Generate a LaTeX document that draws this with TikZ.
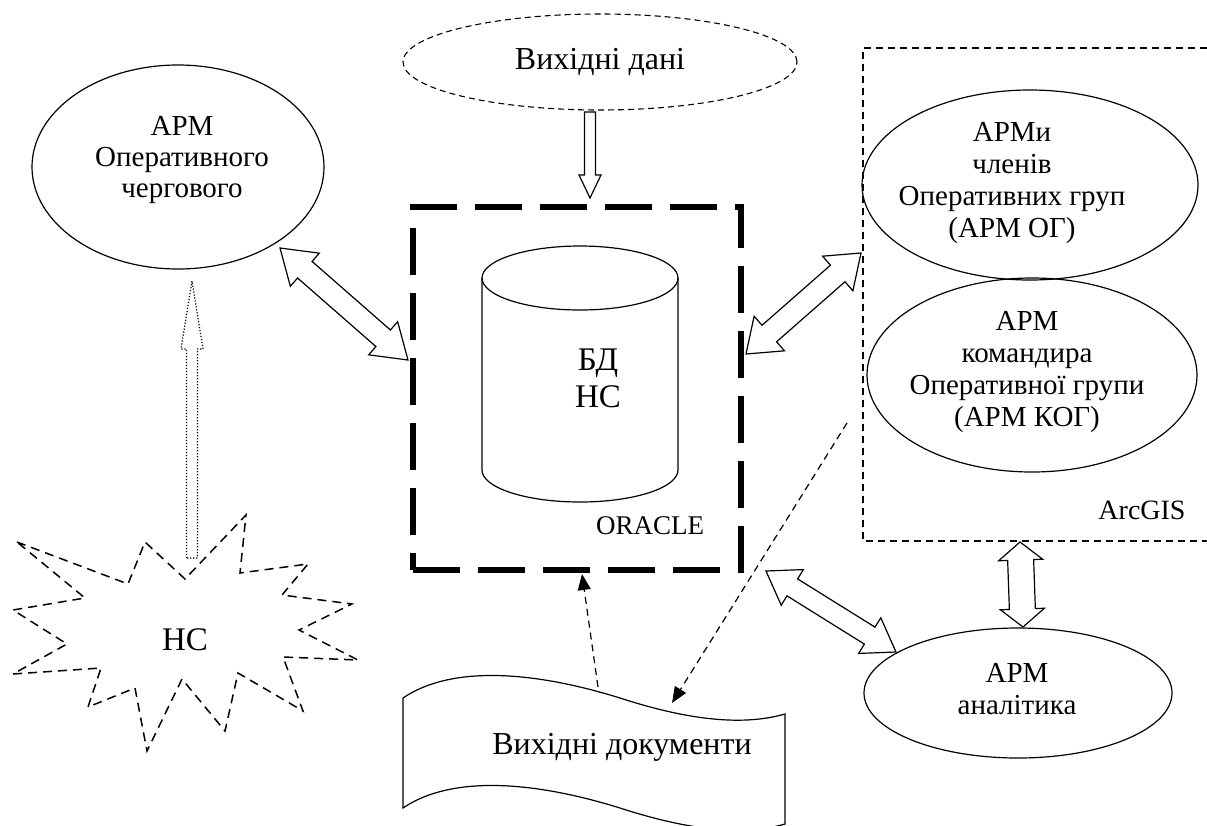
\documentclass[tikz,border=0pt]{standalone}
\usepackage{fontspec}
\setmainfont{Liberation Serif}
\usetikzlibrary{shapes.geometric,calc,arrows.meta}
\tikzset{
  ell/.style={draw, ellipse, line width=1.2pt, inner sep=0pt},
  dashell/.style={ell, dash pattern=on 6pt off 4pt, line width=1.1pt},
  txt/.style={align=center, inner sep=0pt, font=\fontsize{29}{32}\selectfont},
  bigtxt/.style={align=center, inner sep=0pt, font=\fontsize{32}{37}\selectfont},
  hollowarrow/.style={draw, line width=1.2pt, line join=miter, fill=white},
  thickbox/.style={draw, line width=6.5pt, dash pattern=on 47pt off 18pt, inner sep=0pt},
  thindash/.style={line width=1.2pt, dash pattern=on 7pt off 5pt},
  starb/.style={line width=1.5pt, dash pattern=on 9pt off 6pt},
  flow/.style={thindash, -{Triangle[length=16pt,width=13pt]}},
}
\newcommand\dblhollow[5]{%
  \coordinate (#1-h) at ($(#1)!#5!(#2)$);
  \coordinate (#2-h) at ($(#2)!#5!(#1)$);
  \draw[hollowarrow] (#1) -- ($(#1-h)!#4!90:(#2)$) -- ($(#1-h)!#3!90:(#2)$)
    -- ($(#2-h)!#3!-90:(#1)$) -- ($(#2-h)!#4!-90:(#1)$) -- (#2)
    -- ($(#2-h)!#4!90:(#1)$) -- ($(#2-h)!#3!90:(#1)$)
    -- ($(#1-h)!#3!-90:(#2)$) -- ($(#1-h)!#4!-90:(#2)$) -- cycle;
}
\newcommand\sglhollow[6][]{%
  \coordinate (#3-h) at ($(#3)!#6!(#2)$);
  \draw[hollowarrow,#1] ($(#2)!#4!90:(#3)$) -- ($(#3-h)!#4!-90:(#2)$)
    -- ($(#3-h)!#5!-90:(#2)$) -- (#3) -- ($(#3-h)!#5!90:(#2)$)
    -- ($(#3-h)!#4!90:(#2)$) -- ($(#2)!#4!-90:(#3)$) -- cycle;
}
\begin{document}
\begin{tikzpicture}[x=1pt,y=-1pt]
\path[use as bounding box, fill=white] (0,0) rectangle (1207,825);

% source data
\node[dashell, minimum width=394pt, minimum height=96pt] (src) at (600,62) {};
\node[bigtxt] (srct) at (600,62) {Вихідні дані};

% database box
\node[thickbox, minimum width=328pt, minimum height=363pt] (box) at (577,388.5) {};
\draw[line width=1.2pt] (482,278) -- (482,470) arc[start angle=180, end angle=0, x radius=98, y radius=32] -- (678,278);
\draw[line width=1.2pt] (580,278) ellipse [x radius=98, y radius=32];
\node[align=center, inner sep=0pt, font=\fontsize{33}{37}\selectfont] (db) at (598,378) {БД\\НС};
\node[inner sep=0pt, font=\fontsize{27}{30}\selectfont] (oracle) at (650,526) {ORACLE};

% left ellipse
\node[ell, minimum width=292pt, minimum height=204pt] (op) at (178,167) {};
\node[txt, font=\fontsize{29}{31}\selectfont] (opt) at (182,160) {АРМ\\Оперативного\\чергового};

% ArcGIS region
\draw[thindash] (1207,48) -- (863,48) -- (863,541) -- (1207,541);
\node[inner sep=0pt, font=\fontsize{28}{30}\selectfont] (arcgis) at (1142,510) {ArcGIS};
\node[ell, minimum width=336pt, minimum height=190pt] (og) at (1030,185) {};
\node[txt] (ogt) at (1012,183) {АРМи\\членів\\Оперативних груп\\(АРМ ОГ)};
\node[ell, minimum width=330pt, minimum height=194pt] (kog) at (1032,375) {};
\node[txt] (kogt) at (1027,372) {АРМ\\командира\\Оперативної групи\\(АРМ КОГ)};

% analyst
\node[ell, minimum width=308pt, minimum height=130pt] (an) at (1018,693) {};
\node[txt] (ant) at (1017,689) {АРМ\\аналітика};

% emergency starburst
\draw[starb] (17,542) -- (128,584) -- (145,542) -- (185,579) -- (246,515) -- (240,573)
  -- (308,564) -- (282,595) -- (352,604) -- (299,630) -- (358,660) -- (283,657)
  -- (303,711) -- (238,673) -- (225,731) -- (182,679) -- (147,751) -- (135,688)
  -- (88,707) -- (101,668) -- (13,674) -- (67,644) -- (13,610) -- (85,598) -- cycle;
\node[inner sep=0pt, font=\fontsize{33}{37}\selectfont] (hc) at (185,640) {НС};

% output documents
\draw[line width=1.2pt] (403,698) .. controls (450,666) and (530,670) .. (620,698)
  .. controls (700,724) and (750,724) .. (785,714) -- (785,824)
  .. controls (750,834) and (700,834) .. (620,808)
  .. controls (530,780) and (450,776) .. (403,808) -- cycle;
\node[inner sep=0pt, font=\fontsize{32}{36}\selectfont] (doct) at (622,747) {Вихідні документи};

% hollow arrows
\coordinate (s1s) at (590,112); \coordinate (s1e) at (590,198);
\sglhollow{s1s}{s1e}{5.5pt}{11pt}{23pt}
\coordinate (s2s) at (192,558); \coordinate (s2e) at (192,281);
\sglhollow[dash pattern=on 1.2pt off 1.8pt]{s2s}{s2e}{5.5pt}{11pt}{68pt}

\coordinate (a1s) at (280,248); \coordinate (a1e) at (408,360);
\dblhollow{a1s}{a1e}{11pt}{22pt}{33pt}
\coordinate (a2s) at (746,354); \coordinate (a2e) at (861,253);
\dblhollow{a2s}{a2e}{11pt}{23pt}{31pt}
\coordinate (a3s) at (766,571); \coordinate (a3e) at (896,652);
\dblhollow{a3s}{a3e}{10pt}{21pt}{31pt}
\coordinate (a4s) at (1020,542); \coordinate (a4e) at (1023,627);
\dblhollow{a4s}{a4e}{13pt}{22pt}{18pt}

% dashed flows
\coordinate (d1s) at (598,687); \coordinate (d1e) at (582,574);
\draw[flow] (d1s) -- (d1e);
\coordinate (d2s) at (847,423); \coordinate (d2e) at (672,703);
\draw[flow] (d2s) -- (d2e);
\end{tikzpicture}
\end{document}
